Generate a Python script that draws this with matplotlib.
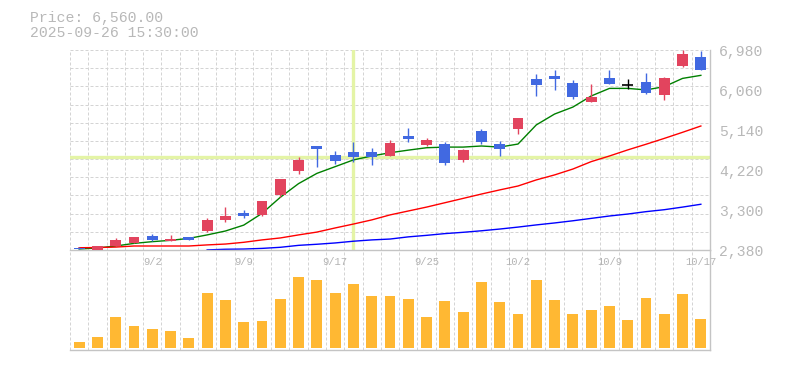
import matplotlib
matplotlib.use("Agg")
import matplotlib.pyplot as plt
import matplotlib.transforms as mtransforms
import numpy as np

# ---------------- data ----------------
dates = ["8/27", "8/28", "8/29", "9/1", "9/2", "9/3", "9/4", "9/5", "9/8", "9/9",
         "9/10", "9/11", "9/12", "9/16", "9/17", "9/18", "9/19", "9/22", "9/24", "9/25",
         "9/26", "9/29", "9/30", "10/1", "10/2", "10/3", "10/6", "10/7", "10/8", "10/9",
         "10/10", "10/14", "10/15", "10/16", "10/17"]

opens = [2490, 2430, 2525, 2595, 2755, 2640, 2730, 2870, 3125, 3290,
         3240, 3700, 4255, 4825, 4620, 4690, 4690, 4595, 5055, 4850,
         4870, 4505, 5170, 4870, 5215, 6365, 6435, 6275, 5835, 6390,
         6230, 6295, 6000, 6665, 6865]
highs = [2500, 2525, 2710, 2730, 2800, 2780, 2730, 3170, 3420, 3355,
         3560, 4065, 4570, 4825, 4710, 4915, 4780, 4965, 5240, 5010,
         4915, 4755, 5215, 4940, 5470, 6480, 6575, 6345, 6250, 6575,
         6365, 6505, 6410, 7030, 7010]
lows = [2460, 2415, 2525, 2595, 2635, 2640, 2665, 2845, 3085, 3170,
        3215, 3650, 4190, 4350, 4410, 4455, 4390, 4595, 4915, 4825,
        4390, 4455, 4870, 4595, 5100, 5975, 6115, 5905, 5835, 6250,
        6135, 6020, 5885, 6640, 6575]
closes = [2465, 2525, 2665, 2730, 2665, 2685, 2665, 3125, 3215, 3215,
          3560, 4065, 4505, 4755, 4480, 4570, 4570, 4895, 4985, 4965,
          4435, 4735, 4915, 4755, 5470, 6230, 6365, 5950, 5950, 6250,
          6230, 6045, 6390, 6940, 6580]

volumes = [60, 110, 310, 220, 190, 170, 100, 550, 480, 260,
           270, 490, 710, 680, 550, 640, 520, 520, 490, 310,
           470, 360, 660, 460, 340, 680, 480, 340, 380, 420,
           280, 500, 340, 540, 290]

ma_short = [2455, 2480, 2525, 2585, 2625, 2655, 2700, 2780, 2870, 3005,
            3275, 3645, 3960, 4195, 4350, 4505, 4595, 4670, 4730, 4785,
            4800, 4800, 4825, 4800, 4870, 5310, 5560, 5720, 5975, 6150,
            6150, 6115, 6190, 6380, 6450]
ma_mid = [2485, 2490, 2500, 2525, 2525, 2525, 2525, 2550, 2570, 2610,
          2665, 2710, 2780, 2845, 2940, 3030, 3125, 3240, 3330, 3420,
          3520, 3620, 3720, 3815, 3905, 4045, 4160, 4295, 4465, 4595,
          4735, 4865, 5000, 5140, 5285]
ma_long = [np.nan] * 7 + [2435, 2450, 2455, 2470, 2495, 2540, 2565, 2595, 2635,
                          2665, 2685, 2735, 2770, 2810, 2840, 2875, 2915, 2960, 3010,
                          3055, 3105, 3160, 3215, 3260, 3315, 3360, 3420, 3485]

price_ticks = [2380, 3300, 4220, 5140, 6060, 6980]
date_labels = ["9/2", "9/9", "9/17", "9/25", "10/2", "10/9", "10/17"]

title_price = "Price: 6,560.00"
title_time = "2025-09-26 15:30:00"
cross_index = 15
cross_price = 4580

# ---------------- style ----------------
UP = "#e2445e"
DOWN = "#4169e1"
VOL = "#ffb833"
GRID = "#d4d4d4"
AXIS = "#c4c4c4"
TXT = "#b8b8b8"
CROSS = "#e4f4a6"
FONT = "Liberation Mono"

W, H = 785, 370
fig = plt.figure(figsize=(W / 100, H / 100), dpi=100)
ax = fig.add_axes([70 / W, 120 / H, 640 / W, 200 / H])
axv = fig.add_axes([70 / W, 20 / H, 640 / W, 100 / H])

n = len(dates)
x = np.arange(n)

for a in (ax, axv):
    a.set_xlim(-0.5, n - 0.5)
    a.set_xticks([])
    a.set_yticks([])
    a.set_facecolor("none")
    for s in ("top", "left"):
        a.spines[s].set_visible(False)
    for s in ("right", "bottom"):
        a.spines[s].set_color(AXIS)
        a.spines[s].set_linewidth(1.0)
ax.set_ylim(2433, 7033)
axv.set_ylim(-20, 980)

# grid
for a in (ax, axv):
    for i in range(n):
        a.axvline(i - 0.5, color=GRID, lw=0.72, dashes=(3, 2), zorder=0, clip_on=False)
for k in range(1, 12):
    ax.plot([0, 1], [k / 11, k / 11], transform=ax.transAxes, color=GRID,
            lw=0.72, dashes=(3, 2), zorder=0, clip_on=False)

# crosshair
ax.axvline(cross_index, color=CROSS, lw=2.4, zorder=1)
ax.axhline(cross_price, color=CROSS, lw=2.4, zorder=1)

# moving averages
ax.plot(x, ma_short, color="#008000", lw=1.0, zorder=2)
ax.plot(x, ma_mid, color="#ff0000", lw=1.0, zorder=2)
ax.plot(x, ma_long, color="#0000ff", lw=1.0, zorder=2)

# candles
o = np.array(opens, float)
c = np.array(closes, float)
colors = [UP if cc > oo else (DOWN if cc < oo else "black") for oo, cc in zip(o, c)]
ax.vlines(x, lows, highs, colors=colors, lw=1.0, zorder=3)
body_bottom = np.minimum(o, c)
body_h = np.abs(c - o)
ax.bar(x, body_h, bottom=body_bottom, width=0.6, color=colors, zorder=4, linewidth=0)
for i in range(n):
    if c[i] == o[i]:
        ax.hlines(o[i], i - 0.3, i + 0.3, colors="black", lw=1.2, zorder=4)

# volume
axv.bar(x, volumes, width=0.6, color=VOL, zorder=2, linewidth=0)

# date labels
tr = mtransforms.blended_transform_factory(axv.transData, axv.transAxes)
for lbl in date_labels:
    axv.text(dates.index(lbl), 0.88, lbl, transform=tr, ha="center", va="center",
             fontsize=7.6, color="#b4b4b4", family=FONT, clip_on=False, zorder=5)

# price labels
tr2 = mtransforms.blended_transform_factory(ax.transAxes, ax.transData)
for v in price_ticks:
    ax.text(1 + 9 / 640, v, f"{v:,}", transform=tr2, ha="left", va="center",
            fontsize=10.6, color=TXT, family=FONT, clip_on=False)

# header
fig.text(30 / W, 1 - 18 / H, title_price, ha="left", va="center",
         fontsize=10.6, color=TXT, family=FONT)
fig.text(30 / W, 1 - 33 / H, title_time, ha="left", va="center",
         fontsize=10.6, color=TXT, family=FONT)

fig.savefig("out.png", dpi=100)
